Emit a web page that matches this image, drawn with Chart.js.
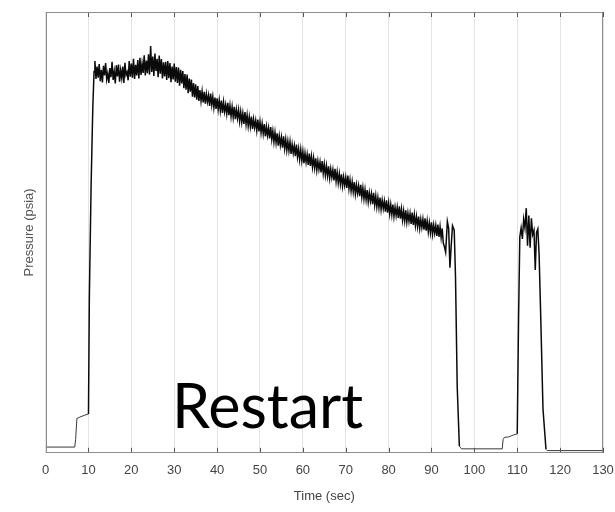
<!DOCTYPE html>
<html>
<head>
<meta charset="utf-8">
<script src="https://cdn.jsdelivr.net/npm/chart.js@4.4.1/dist/chart.umd.min.js"></script>
<style>
  html, body { margin: 0; padding: 0; background: #fff; }
  #wrap { position: relative; width: 615px; height: 512px; }
  #restart { position: absolute; left: 172px; top: 370px; font-family: Lato, "Open Sans", sans-serif; font-size: 61px; line-height: 70px; color: #000; white-space: nowrap; }
</style>
</head>
<body>
<div id="wrap">
  <canvas id="c" width="615" height="512"></canvas>
  <div id="restart">Restart</div>
</div>
<script>
// ---- data ----
const xTicks = [0, 10, 20, 30, 40, 50, 60, 70, 80, 90, 100, 110, 120, 130];
const xTitle = "Time (sec)";
const yTitle = "Pressure (psia)";

// pre-ignition and first rise (time, pressure)
const startTimes    = [0, 6.8, 7.0, 7.3, 8.0, 9.0, 10.0, 10.2, 10.6, 11.0, 11.3];
const startPressure = [1.3, 1.3, 3.0, 7.8, 8.1, 8.5, 8.8, 35, 60, 78, 86.5];

// main burn, sampled every 0.25 s starting at 11.5 s
const burnStart = 11.5;
const burnStep = 0.25;
const burnPressure = [
  88.9, 84.8,
  87.6, 85.1, 88.2, 84.3,  86.9, 84.0, 87.8, 85.6,  88.4, 84.7, 86.1, 83.9,  87.3, 85.2, 88.7, 84.6,
  86.5, 83.8, 87.9, 85.4,  88.1, 84.2, 86.8, 85.0,  87.6, 83.9, 88.5, 85.7,  86.4, 84.5, 88.9, 85.3,
  88.3, 85.1, 89.4, 84.8,  88.0, 85.6, 89.1, 84.9,  89.6, 85.7, 88.3, 86.2,  90.2, 85.6, 89.0, 86.1,
  90.4, 85.8, 92.3, 86.4,  89.9, 85.5, 90.6, 86.6,  89.4, 85.2, 90.1, 86.0,  89.3, 84.9, 88.6, 85.4,
  88.7, 84.6, 88.9, 85.0,  88.4, 84.1, 87.6, 84.7,  88.3, 84.2, 87.5, 83.9,  87.4, 83.3, 86.9, 83.8,
  86.6, 82.7, 85.9, 82.4,  85.8, 81.6, 84.9, 81.9,  84.7, 80.8, 83.9, 80.6,  83.6, 80.1, 83.2, 79.8,
  82.3, 79.8, 82.0, 79.5,  81.9, 79.2, 81.4, 79.6,  81.1, 78.7, 81.5, 78.9,  80.8, 78.3, 80.6, 78.0,
  80.4, 77.9, 80.0, 77.6,  79.9, 77.1, 79.6, 77.4,  79.0, 76.9, 79.4, 76.6,  78.8, 76.3, 78.5, 76.1,
  78.5, 75.7, 77.9, 75.9,  77.8, 75.2, 77.4, 75.0,  77.0, 74.6, 77.3, 74.5,  76.6, 74.1, 76.2, 74.0,
  76.3, 73.5, 75.7, 73.8,  75.4, 73.1, 75.6, 72.9,  75.1, 72.6, 74.7, 72.4,  74.6, 71.8, 74.0, 72.0,
  73.7, 71.3, 73.9, 71.1,  73.0, 70.5, 72.7, 70.3,  72.5, 69.7, 71.9, 69.8,  71.6, 69.2, 71.8, 69.0,
  71.1, 68.6, 70.7, 68.5,  70.6, 67.8, 70.0, 68.0,  69.7, 67.3, 69.9, 67.1,  69.0, 66.5, 68.8, 66.3,
  68.4, 65.7, 68.0, 65.9,  67.7, 65.3, 67.9, 65.1,  67.3, 64.8, 66.9, 64.6,  66.8, 64.1, 66.2, 64.3,
  66.0, 63.6, 66.2, 63.4,  65.5, 63.0, 65.1, 62.8,  65.0, 62.3, 64.4, 62.5,  64.2, 61.8, 64.4, 61.6,
  63.7, 61.2, 63.3, 61.0,  63.2, 60.5, 62.6, 60.7,  62.5, 60.1, 62.9, 59.9,  61.9, 59.4, 61.5, 59.2,
  61.4, 58.7, 60.8, 58.9,  60.6, 58.2, 60.8, 58.0,  60.1, 57.6, 59.7, 57.4,  59.6, 56.9, 59.0, 57.1,
  58.8, 56.4, 59.0, 56.2,  58.3, 55.8, 57.9, 55.6,  57.9, 55.2, 57.3, 55.4,  57.1, 54.7, 57.3, 54.5,
  56.7, 54.2, 56.3, 54.0,  56.3, 53.6, 55.7, 53.8,  55.7, 53.3, 55.9, 53.1,  55.3, 52.8, 54.9, 52.6,
  55.0, 52.3, 54.4, 52.5,  54.3, 51.9, 54.5, 51.7,  54.0, 51.5, 53.6, 51.3,  53.6, 50.9, 53.0, 51.1,
  53.0, 50.6, 53.2, 50.4,  52.6, 50.1, 52.2, 49.9,  52.3, 49.6, 51.7, 49.8,  51.6, 49.2, 51.8, 49.0,
  51.3, 48.8, 50.9, 47.6,
  46.8
];

// shutdown, restart and second shutdown (time, pressure)
const endTimes    = [93.3, 93.7, 94.0, 94.3, 94.6, 94.9, 95.3, 95.6, 96.0, 96.5, 97.0, 106.5, 106.7, 107.0, 108.0, 109.0, 110.0,
                     110.3, 110.6, 110.9, 111.2, 111.5, 111.8, 112.1, 112.4, 112.7, 113.0, 113.3, 113.6, 113.9, 114.2, 114.5, 114.8,
                     115.1, 115.5, 116.0, 116.7, 117.0, 130.0];
const endPressure = [45.5, 52.5, 51.0, 42.0, 47.0, 51.5, 50.5, 40.0, 15.0, 1.5, 0.9, 0.9, 3.0, 3.5, 3.6, 4.0, 4.3,
                     30.0, 49.0, 51.0, 48.5, 53.0, 51.0, 55.5, 47.0, 53.8, 46.5, 53.2, 49.5, 50.5, 41.5, 50.0, 50.8,
                     45.0, 30.0, 10.0, 0.8, 0.5, 0.5];

// ---- build points ----
const points = [];
startTimes.forEach((t, i) => points.push({x: t, y: startPressure[i]}));
burnPressure.forEach((p, i) => points.push({x: burnStart + i * burnStep, y: p}));
endTimes.forEach((t, i) => points.push({x: t, y: endPressure[i]}));

const framePlugin = {
  id: 'frame',
  afterDatasetsDraw(chart) {
    const {ctx, chartArea: a, scales: {x}} = chart;
    ctx.save();
    ctx.strokeStyle = '#555';
    ctx.lineWidth = 1;
    xTicks.forEach(v => {
      const px = Math.round(x.getPixelForValue(v)) + 0.5;
      ctx.beginPath();
      ctx.moveTo(px, a.top); ctx.lineTo(px, a.top + 5);
      ctx.moveTo(px, a.bottom); ctx.lineTo(px, a.bottom - 5);
      ctx.stroke();
    });
    ctx.strokeStyle = '#8c8c8c';
    ctx.strokeRect(Math.round(a.left) + 0.5, Math.round(a.top) + 0.5, Math.round(a.width) - 1, Math.round(a.height) - 1);
    ctx.restore();
  }
};

const lowSeg = (c) => c.p0.parsed.y < 10 && c.p1.parsed.y < 10;

new Chart(document.getElementById('c'), {
  type: 'line',
  data: {
    datasets: [{
      data: points,
      borderColor: '#0a0a0a',
      borderWidth: 1.5,
      pointRadius: 0,
      tension: 0,
      fill: false,
      segment: {
        borderWidth: (c) => lowSeg(c) ? 1 : undefined,
        borderColor: (c) => lowSeg(c) ? '#3a3a3a' : undefined
      }
    }]
  },
  options: {
    responsive: false,
    animation: false,
    events: [],
    layout: { padding: { top: 12, right: 12, left: 0, bottom: 0 } },
    plugins: { legend: { display: false }, tooltip: { enabled: false } },
    scales: {
      x: {
        type: 'linear',
        min: 0, max: 130,
        afterBuildTicks: (s) => { s.ticks = xTicks.map(v => ({value: v})); },
        afterFit: (s) => { s.paddingRight = 0; s.paddingLeft = 0; },
        ticks: { color: '#444', font: { family: 'Liberation Sans, Arial, sans-serif', size: 13 }, padding: 10, maxRotation: 0, autoSkip: false },
        grid: { color: '#e3e3e3', drawTicks: false, lineWidth: 1 },
        border: { display: false },
        title: { display: true, text: xTitle, color: '#444', font: { family: 'Liberation Sans, Arial, sans-serif', size: 13 }, padding: { top: 0, bottom: 8 } }
      },
      y: {
        type: 'linear',
        min: 0, max: 100,
        ticks: { display: false },
        grid: { display: false, drawTicks: false },
        border: { display: false },
        title: { display: true, text: yTitle, color: '#555', font: { family: 'Liberation Sans, Arial, sans-serif', size: 13 }, padding: { top: 22, bottom: 8 } }
      }
    }
  },
  plugins: [framePlugin]
});
</script>
</body>
</html>
